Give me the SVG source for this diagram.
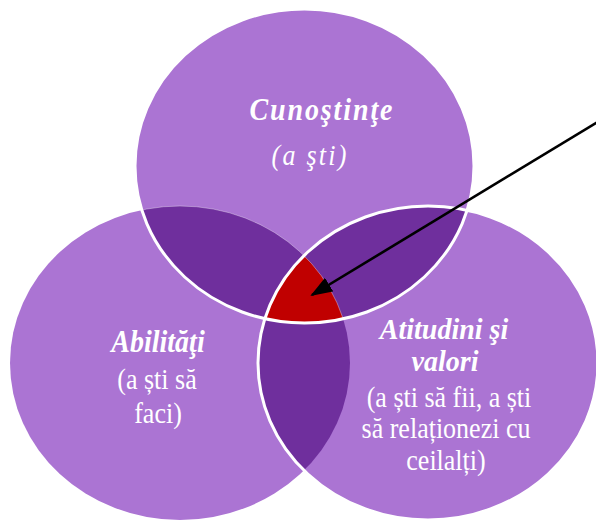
<svg xmlns="http://www.w3.org/2000/svg" width="596" height="521" viewBox="0 0 596 521">
<style>
.base{fill:#AB74D3}
.dark{fill:#6F2F9D}
.red{fill:#C00000}
.ws{fill:none;stroke:#FFFFFF;stroke-width:3}
.h{font-family:"Liberation Serif","Times New Roman",serif;font-weight:bold;font-style:italic;font-size:28px;fill:#FFFFFF;text-anchor:middle}
.t{font-family:"Liberation Serif","Times New Roman",serif;font-size:26px;fill:#FFFFFF;text-anchor:middle}
.conn{stroke:#000000;stroke-width:2.6;fill:none}
</style>
<defs>
<clipPath id="cT"><ellipse cx="304.5" cy="166" rx="169.5" ry="157"/></clipPath>
<clipPath id="cL"><ellipse cx="180" cy="363" rx="170" ry="157"/></clipPath>
<marker id="ah2" markerWidth="22" markerHeight="16" refX="20" refY="8" orient="auto" markerUnits="userSpaceOnUse" viewBox="0 0 22 16">
<path d="M0,0 L22,8 L0,16 Z" fill="#000000"/>
</marker>
</defs>
<g id="circle-top"><ellipse class="base" cx="304.5" cy="166" rx="169.5" ry="157"/></g>
<g id="circle-left"><ellipse class="base" cx="180" cy="363" rx="170" ry="157"/></g>
<g id="circle-right"><ellipse class="base" cx="428" cy="363" rx="170" ry="157"/></g>
<g id="overlap-top-left" clip-path="url(#cT)"><ellipse class="dark" cx="180" cy="363" rx="170" ry="157"/></g>
<g id="overlap-top-right" clip-path="url(#cT)"><ellipse class="dark" cx="428" cy="363" rx="170" ry="157"/></g>
<g id="overlap-left-right" clip-path="url(#cL)"><ellipse class="dark" cx="428" cy="363" rx="170" ry="157"/></g>
<g id="overlap-center" clip-path="url(#cL)"><g clip-path="url(#cT)"><ellipse class="red" cx="428" cy="363" rx="170" ry="157"/></g></g>
<g id="outlines">
<g clip-path="url(#cT)"><ellipse cx="180" cy="363" rx="170" ry="157" fill="none" stroke="#FFFFFF" stroke-opacity="0.35" stroke-width="1"/></g>
<ellipse class="ws" cx="428" cy="363" rx="170" ry="157"/>
<ellipse class="ws" cx="304.5" cy="166" rx="169.5" ry="157"/>
</g>
<g id="label-top">
<text class="h" transform="translate(321,120) scale(1,1.1)" textLength="143" lengthAdjust="spacing">Cunoştinţe</text>
<text class="t" transform="translate(309,165) scale(1,1.13)" font-style="italic" textLength="75" lengthAdjust="spacing">(a şti)</text>
</g>
<g id="label-left">
<text class="h" transform="translate(158,352) scale(1,1.1)">Abilităţi</text>
<text class="t" transform="translate(157,389) scale(1,1.13)">(a ști să</text>
<text class="t" transform="translate(158,423) scale(1,1.13)">faci)</text>
</g>
<g id="label-right">
<text class="h" transform="translate(444,339) scale(1,1.06)">Atitudini şi</text>
<text class="h" transform="translate(445,371) scale(1,1.06)">valori</text>
<text class="t" transform="translate(449,407) scale(1,1.13)">(a ști să fii, a ști</text>
<text class="t" transform="translate(446,438) scale(1,1.13)">să relaționezi cu</text>
<text class="t" transform="translate(446,470) scale(1,1.13)">ceilalți)</text>
</g>
<g id="connectors">
<line class="conn" x1="600" y1="120.6" x2="312" y2="295" marker-end="url(#ah2)"/>
</g>
</svg>
